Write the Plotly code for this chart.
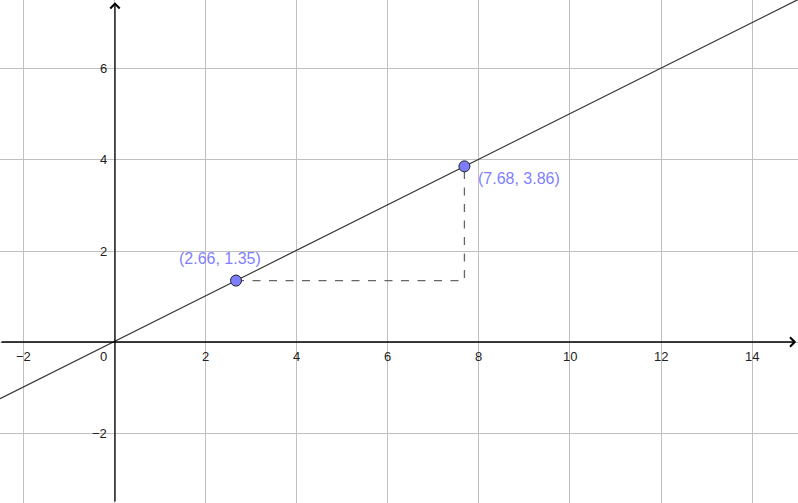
import plotly.graph_objects as go

# points on the line
point_x = [2.66, 7.68]
point_y = [1.35, 3.86]
point_labels = ["(2.66, 1.35)", "(7.68, 3.86)"]

# axis ticks
x_ticks = [-2, 0, 2, 4, 6, 8, 10, 12, 14]
y_ticks = [-2, 0, 2, 4, 6]

x_range = [-2.527, 15.011]
y_range = [-3.538, 7.516]

slope = (point_y[1] - point_y[0]) / (point_x[1] - point_x[0])
intercept = point_y[0] - slope * point_x[0]

fig = go.Figure()

# the line through both points, drawn across the whole view
fig.add_trace(go.Scatter(x=x_range, y=[slope * v + intercept for v in x_range],
                         mode='lines', line=dict(color='#333333', width=1.2),
                         hoverinfo='skip'))

# dashed rise/run triangle
fig.add_trace(go.Scatter(x=[point_x[0], point_x[1], point_x[1]],
                         y=[point_y[0], point_y[0], point_y[1]],
                         mode='lines', line=dict(color='#666666', width=1.3, dash='8px,8.5px'),
                         hoverinfo='skip'))

fig.add_trace(go.Scatter(x=point_x, y=point_y, mode='markers',
                         marker=dict(size=11, color='#7d7dff', line=dict(color='#222222', width=1))))

label_font = dict(family='Liberation Sans, Arial, sans-serif', size=16, color='#7f7fff')
fig.add_annotation(x=point_x[0], y=point_y[0], text=point_labels[0], showarrow=False,
                   xanchor='center', yanchor='bottom', xshift=-16, yshift=12, font=label_font)
fig.add_annotation(x=point_x[1], y=point_y[1], text=point_labels[1], showarrow=False,
                   xanchor='left', yanchor='top', xshift=12, yshift=-2, font=label_font)

# axes with open arrowheads
axis_line = dict(showarrow=True, arrowhead=4, arrowsize=1.4, arrowwidth=1.3, arrowcolor='#000000',
                 axref='x', ayref='y', text='')
fig.add_annotation(x=x_range[1] - 0.04, y=0, ax=x_range[0], ay=0, **axis_line)
fig.add_annotation(x=0, y=y_range[1] - 0.05, ax=0, ay=y_range[0], **axis_line)

tick_font = dict(family='Liberation Sans, Arial, sans-serif', size=13, color='#222222')
for v in x_ticks:
    label = str(v).replace('-', '\u2212')
    if v == 0:
        fig.add_annotation(x=0, y=0, text=label, showarrow=False, xanchor='right', yanchor='top',
                           xshift=-6, yshift=-5, font=tick_font)
    else:
        fig.add_annotation(x=v, y=0, text=label, showarrow=False, xanchor='center', yanchor='top',
                           yshift=-5, font=tick_font)
for v in y_ticks:
    if v == 0:
        continue
    fig.add_annotation(x=0, y=v, text=str(v).replace('-', '\u2212'), showarrow=False,
                       xanchor='right', yanchor='middle', xshift=-6, font=tick_font)

grid = dict(showgrid=True, gridcolor='#c0c0c0', gridwidth=1, zeroline=False,
            showticklabels=False, ticks='', showline=False)
fig.update_xaxes(range=x_range, tick0=0, dtick=2, **grid)
fig.update_yaxes(range=y_range, tick0=0, dtick=2, **grid)

fig.update_layout(width=798, height=503, margin=dict(l=0, r=0, t=0, b=0),
                  plot_bgcolor='white', paper_bgcolor='white', showlegend=False)

# drop the browser's default body margin so the canvas sits at the window corner
fig.write_html("out.html", config={'displayModeBar': False},
               post_script="document.body.style.margin='0';")
